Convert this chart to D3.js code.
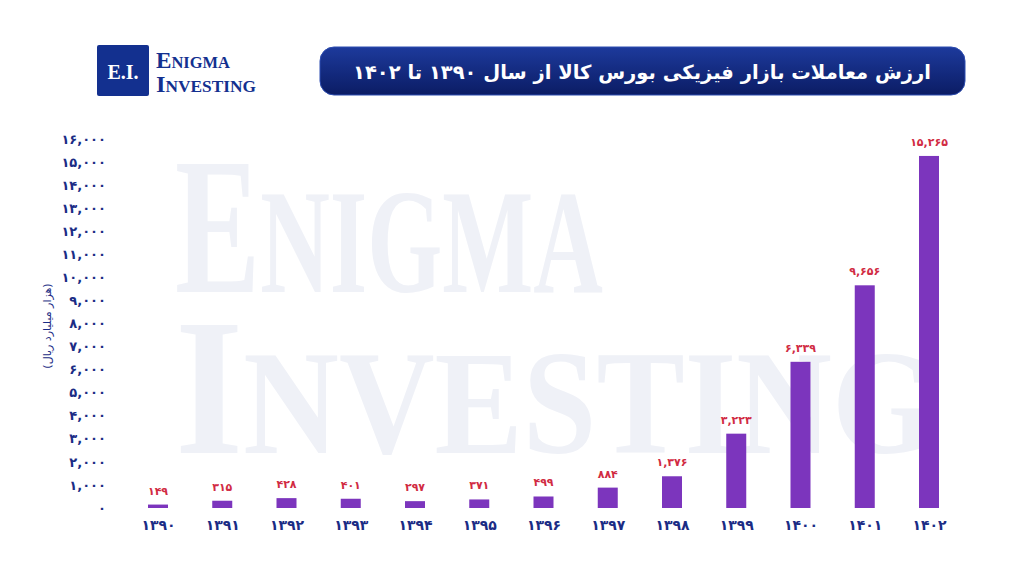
<!DOCTYPE html>
<html><head><meta charset="utf-8">
<script src="https://cdn.jsdelivr.net/npm/d3@7"></script>
<style>
html,body{margin:0;padding:0;background:#fff;}
svg{display:block;}
</style></head>
<body>
<script>
const years = ["۱۳۹۰","۱۳۹۱","۱۳۹۲","۱۳۹۳","۱۳۹۴","۱۳۹۵","۱۳۹۶","۱۳۹۷","۱۳۹۸","۱۳۹۹","۱۴۰۰","۱۴۰۱","۱۴۰۲"];
const values = [149,315,428,401,297,371,499,884,1376,3223,6339,9656,15265];
const yTicks = d3.range(0, 16001, 1000);
const title = "ارزش معاملات بازار فیزیکی بورس کالا از سال ۱۳۹۰ تا ۱۴۰۲";
const yTitle = "(هزار میلیارد ریال)";

const W = 1024, H = 576;
const fa = s => String(s).replace(/\d/g, c => "۰۱۲۳۴۵۶۷۸۹"[+c]);
const fmt = d => fa(d3.format(",")(d));

const svg = d3.select("body").append("svg").attr("width", W).attr("height", H);
const defs = svg.append("defs");
const grad = defs.append("linearGradient").attr("id","tg").attr("x1",0).attr("y1",0).attr("x2",0).attr("y2",1);
grad.append("stop").attr("offset","0%").attr("stop-color","#1d3a9c");
grad.append("stop").attr("offset","100%").attr("stop-color","#0b1c64");

// watermark
const wm = svg.append("g").attr("fill","#eff1f7").attr("font-family","'Liberation Serif','DejaVu Serif',serif").attr("font-weight","bold");
const t1 = wm.append("text").attr("x",175).attr("y",292).attr("textLength",428).attr("lengthAdjust","spacingAndGlyphs");
t1.append("tspan").attr("font-size",196).text("E");
t1.append("tspan").attr("font-size",148).text("NIGMA");
const t2 = wm.append("text").attr("x",175).attr("y",453).attr("textLength",760).attr("lengthAdjust","spacingAndGlyphs");
t2.append("tspan").attr("font-size",196).text("I");
t2.append("tspan").attr("font-size",148).text("NVESTING");

// logo
svg.append("rect").attr("x",97).attr("y",45).attr("width",52).attr("height",51).attr("rx",2).attr("fill","#13308f");
svg.append("text").attr("x",123).attr("y",79).attr("text-anchor","middle").attr("fill","#fff")
  .attr("font-family","'Liberation Serif',serif").attr("font-weight","bold").attr("font-size",20).text("E.I.");
const lg = svg.append("g").attr("fill","#13308f").attr("font-family","'Liberation Serif',serif").attr("font-weight","bold");
const l1 = lg.append("text").attr("x",156).attr("y",68).attr("textLength",74).attr("lengthAdjust","spacingAndGlyphs");
l1.append("tspan").attr("font-size",24).text("E");
l1.append("tspan").attr("font-size",17).text("NIGMA");
const l2 = lg.append("text").attr("x",156).attr("y",92).attr("textLength",100).attr("lengthAdjust","spacingAndGlyphs");
l2.append("tspan").attr("font-size",24).text("I");
l2.append("tspan").attr("font-size",17).text("NVESTING");

// title pill
svg.append("rect").attr("x",320).attr("y",47).attr("width",645).attr("height",48).attr("rx",14)
  .attr("fill","url(#tg)").attr("stroke","#2c4cb0").attr("stroke-width",1);
svg.append("text").attr("x",642).attr("y",79).attr("text-anchor","middle").attr("direction","rtl")
  .attr("fill","#fff").attr("font-family","'DejaVu Sans',sans-serif").attr("font-weight","bold").attr("font-size",19.5)
  .text(title);

// scales
const x = d3.scalePoint().domain(years).range([158, 929]);
const y = d3.scaleLinear().domain([0, 16000]).range([508, 139]);
const bw = 20;

// y axis
const yAxis = svg.append("g").attr("transform","translate(106,0)")
  .call(d3.axisLeft(y).tickValues(yTicks).tickSize(0).tickPadding(0).tickFormat(fmt));
yAxis.select(".domain").remove();
yAxis.selectAll("text").attr("fill","#1b2c85").attr("font-family","'DejaVu Sans',sans-serif")
  .attr("font-weight","bold").attr("font-size",13);

// x axis
const xAxis = svg.append("g").attr("transform","translate(0,520)")
  .call(d3.axisBottom(x).tickSize(0).tickPadding(0));
xAxis.select(".domain").remove();
xAxis.selectAll("text").attr("fill","#1b2c85").attr("font-family","'DejaVu Sans',sans-serif")
  .attr("font-weight","bold").attr("font-size",14).attr("dy","0.71em");

// y title
svg.append("text").attr("transform","translate(51,326) rotate(-90)").attr("text-anchor","middle").attr("direction","rtl")
  .attr("fill","#1b2c85").attr("font-family","'DejaVu Sans',sans-serif").attr("font-size",11).text(yTitle);

// bars
svg.append("g").selectAll("rect").data(values).join("rect")
  .attr("x",(d,i)=>x(years[i])-bw/2).attr("y",d=>y(d)).attr("width",bw).attr("height",d=>y(0)-y(d))
  .attr("fill","#7c35bd");

// value labels
svg.append("g").selectAll("text").data(values).join("text")
  .attr("x",(d,i)=>x(years[i])).attr("y",d=>y(d)-10).attr("text-anchor","middle")
  .attr("fill","#d12b43").attr("font-family","'DejaVu Sans',sans-serif").attr("font-weight","bold").attr("font-size",11)
  .text(fmt);
</script>
</body></html>
